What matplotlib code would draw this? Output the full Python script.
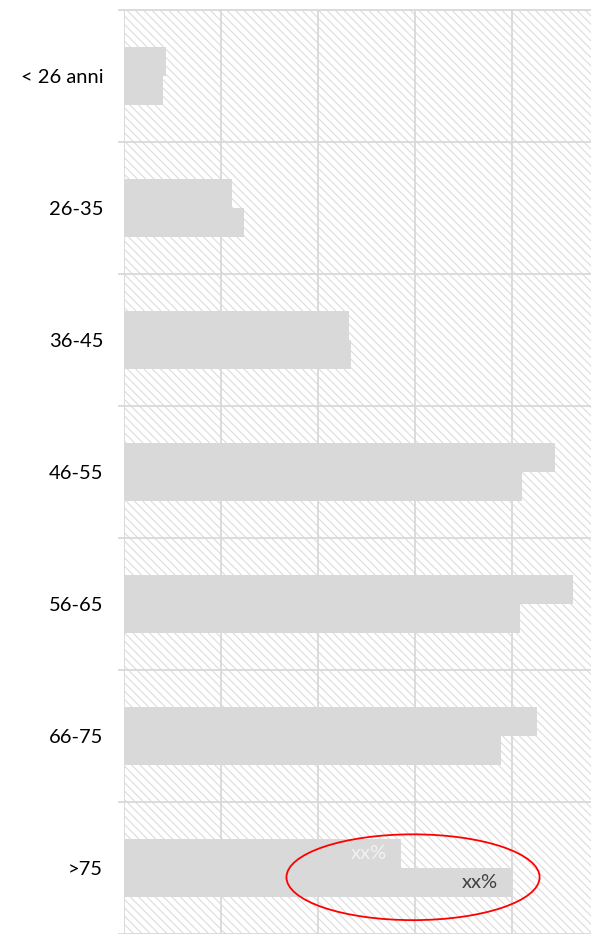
import matplotlib
matplotlib.use("Agg")
import matplotlib.pyplot as plt
from matplotlib.patches import Rectangle, Ellipse
import numpy as np

plt.rcParams['font.family'] = ['Lato', 'DejaVu Sans']
plt.rcParams['hatch.color'] = '#dcdcdc'
plt.rcParams['hatch.linewidth'] = 0.8

categories = ["< 26 anni", "26-35", "36-45", "46-55", "56-65", "66-75", ">75"]
series_a = [4.3, 11.1, 23.2, 44.4, 46.3, 42.6, 28.6]
series_b = [4.0, 12.4, 23.4, 41.0, 40.8, 38.9, 40.1]
label_a = "xx%"
label_b = "xx%"
xticks = [0, 10, 20, 30, 40]

W, H = 591, 934
fig = plt.figure(figsize=(W / 100, H / 100), dpi=100)
left = 124 / W
top_px = 10
ax = fig.add_axes([left, 0, 1 - left, (H - top_px) / H])

n = len(categories)
y = np.arange(n)
bh = 0.22

ax.set_xlim(0, 48.15)
ax.set_ylim(n - 0.5, -0.5)

# hatched background
bg = Rectangle((0, 0), 1, 1, transform=ax.transAxes, facecolor='white',
               edgecolor='#dcdcdc', hatch='\\\\\\\\', linewidth=0, zorder=0)
ax.add_patch(bg)

# gridlines
for xv in xticks:
    ax.axvline(xv, color='#d9d9d9', linewidth=1.3, zorder=1)
for b in np.arange(n + 1) - 0.5:
    ax.axhline(b, color='#d9d9d9', linewidth=1.3, zorder=1, clip_on=False)

ax.barh(y - bh / 2, series_a, height=bh, color='#d9d9d9', zorder=2)
ax.barh(y + bh / 2, series_b, height=bh, color='#d9d9d9', zorder=2)

# labels on last category
ax.text(series_a[-1] - 1.5, y[-1] - bh / 2, label_a, ha='right', va='center',
        color='#f2f2f2', fontsize=14.5, zorder=3)
ax.text(series_b[-1] - 1.5, y[-1] + bh / 2, label_b, ha='right', va='center',
        color='#404040', fontsize=14.5, zorder=3)

# red ellipse annotation
ell = Ellipse((29.8, y[-1] + 0.07), 26.1, 0.65, facecolor='none',
              edgecolor='#ff0000', linewidth=1.3, zorder=4)
ax.add_patch(ell)

ax.set_yticks(y)
ax.set_yticklabels(categories, fontsize=14.5, color='#000000')
ax.set_yticks(np.arange(n + 1) - 0.5, minor=True)
ax.tick_params(axis='y', which='major', length=0, pad=15)
ax.tick_params(axis='y', which='minor', length=4.5, color='#d9d9d9', width=1.3)
ax.set_xticks([])
for s in ax.spines.values():
    s.set_visible(False)

fig.savefig("out.png", dpi=100)
